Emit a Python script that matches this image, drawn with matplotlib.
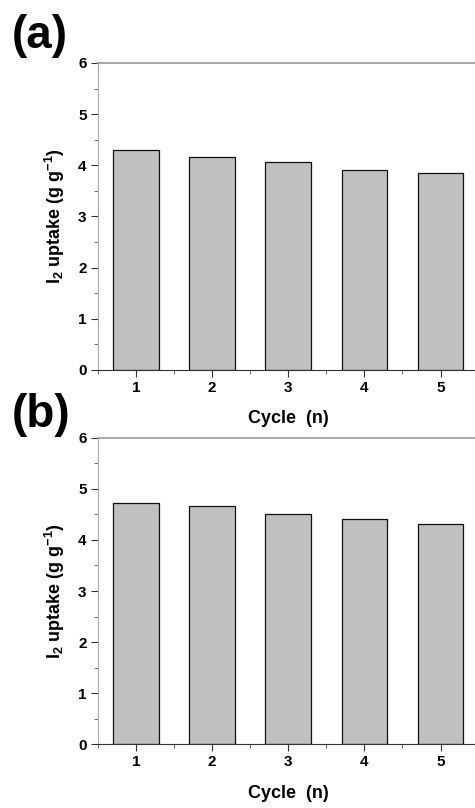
import matplotlib
matplotlib.use("Agg")
import matplotlib.pyplot as plt
from matplotlib.ticker import MultipleLocator

plt.rcParams['font.family'] = ['Liberation Sans', 'DejaVu Sans']
plt.rcParams['font.weight'] = 'bold'
plt.rcParams['mathtext.fontset'] = 'custom'
plt.rcParams['mathtext.rm'] = 'Liberation Sans:bold'
plt.rcParams['mathtext.bf'] = 'Liberation Sans:bold'
plt.rcParams['mathtext.default'] = 'bf'

cycles = [1, 2, 3, 4, 5]
uptake_a = [4.29, 4.16, 4.07, 3.90, 3.84]
uptake_b = [4.72, 4.67, 4.51, 4.40, 4.32]
panel_labels = ['(a)', '(b)']

fig = plt.figure(figsize=(4.75, 8.08), dpi=100)

axes_rects = [
    [0.2057, 0.5421, 0.802, 0.380],
    [0.2057, 0.0788, 0.802, 0.3795],
]
label_y = [0.956, 0.487]

for rect, vals, lab, ly in zip(axes_rects, [uptake_a, uptake_b], panel_labels, label_y):
    ax = fig.add_axes(rect)
    ax.bar(cycles, vals, width=0.6, color='#c0c0c0', edgecolor='#111111', linewidth=0.9, zorder=2)
    ax.set_xlim(0.5, 5.5)
    ax.set_ylim(0, 6)
    ax.xaxis.set_major_locator(MultipleLocator(1))
    ax.xaxis.set_minor_locator(MultipleLocator(0.5))
    ax.yaxis.set_major_locator(MultipleLocator(1))
    ax.yaxis.set_minor_locator(MultipleLocator(0.5))
    ax.tick_params(which='major', direction='out', length=5, width=0.8, color='#333333',
                   labelsize=11, pad=3)
    ax.tick_params(which='minor', direction='out', length=3, width=0.6, color='#555555')
    for t in ax.get_xticklabels() + ax.get_yticklabels():
        t.set_fontweight('bold')
    ax.spines['left'].set_color('#aaaaaa')
    ax.spines['bottom'].set_color('#333333')
    ax.spines['top'].set_color('#999999')
    ax.spines['right'].set_color('#999999')
    ax.spines['top'].set_linewidth(1.2)
    ax.set_xlabel('Cycle  (n)', fontsize=13, fontweight='bold', labelpad=11)
    ax.set_ylabel(r'I$_2$ uptake (g g$^{-1}$)', fontsize=13, fontweight='bold', labelpad=8)
    fig.text(0.025, ly, lab, fontsize=33, fontweight='bold', ha='left', va='center')

fig.savefig('out.png', dpi=100)
